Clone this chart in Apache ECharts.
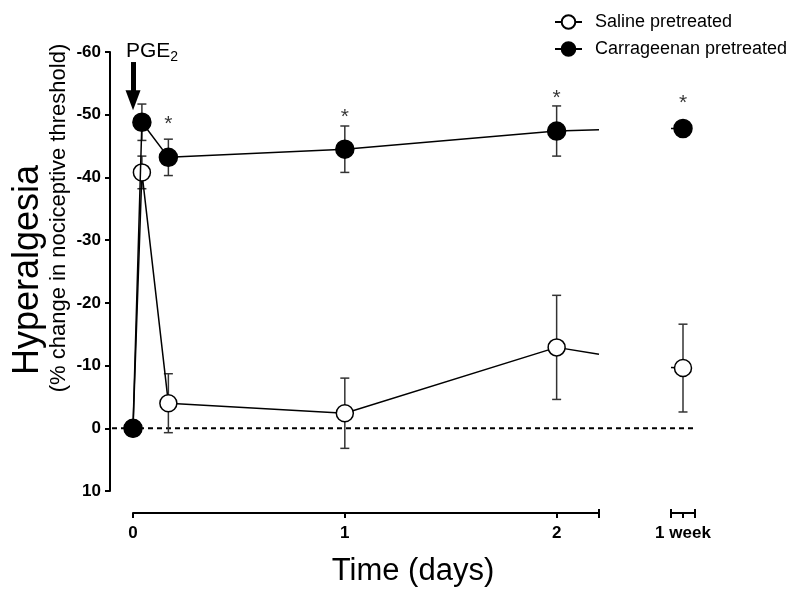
<!DOCTYPE html>
<html><head><meta charset="utf-8">
<script src="https://cdn.jsdelivr.net/npm/echarts@6/dist/echarts.min.js"></script>
<style>html,body{margin:0;padding:0;background:#fff}#c{width:800px;height:595px}</style>
</head><body><div id="c"></div>
<script>
// ---- data ----
const dayTimes = [0, 0.042, 0.167, 1, 2];
const dayTickValues = [0, 1, 2];
const dayAxisEnd = 2.2;
const salineMean = [0, -40.8, -4.0, -2.4, -12.9];
const salineSem  = [0, 2.6, 4.7, 5.6, 8.3];
const carrMean   = [0, -48.8, -43.2, -44.5, -47.4];
const carrSem    = [0, 2.9, 2.9, 3.7, 4.0];
const salineAtBreak = -11.8;
const carrAtBreak = -47.6;
const weekRange = [0, 2];
const weekPos = 1;
const weekLabel = '1 week';
const salineWeekStart = -9.7;
const carrWeekStart = -47.8;
const salineWeekMean = -9.6, salineWeekSem = 7.0;
const carrWeekMean = -47.8, carrWeekSem = 0.8;
const starDays = [0.167, 1, 2];
const starValues = [-49.4, -50.6, -53.6];
const starWeekValue = -52.8;
const yMin = -60, yMax = 10, yStep = 10;
const arrowFrom = -58.4, arrowTo = -52.3;
const seriesNames = ['Saline pretreated', 'Carrageenan pretreated'];

const FONT = 'Liberation Sans, Arial, sans-serif';
const chart = echarts.init(document.getElementById('c'));

function errorBar(params, api) {
  const x = api.value(0), m = api.value(1), s = api.value(2);
  const a = api.coord([x, m - s]);
  const b = api.coord([x, m + s]);
  const hw = 4.5;
  const st = { stroke: '#333', lineWidth: 1.5 };
  return { type: 'group', children: [
    { type: 'line', shape: { x1: a[0], y1: a[1], x2: b[0], y2: b[1] }, style: st },
    { type: 'line', shape: { x1: a[0] - hw, y1: a[1], x2: a[0] + hw, y2: a[1] }, style: st },
    { type: 'line', shape: { x1: b[0] - hw, y1: b[1], x2: b[0] + hw, y2: b[1] }, style: st }
  ]};
}

const grids = [
  { left: 133, right: 201, top: 52, bottom: 104 },
  { left: 671, right: 105, top: 52, bottom: 104 },
  { left: 112, right: 105, top: 52, bottom: 104 }
];
const yBase = { type: 'value', min: yMin, max: yMax, interval: yStep, inverse: true, splitLine: { show: false } };
const hiddenY = Object.assign({}, yBase, { show: false });

const axisLabelStyle = { color: '#000', fontFamily: FONT, fontWeight: 'bold', fontSize: 17 };

const markerOpen = { color: '#fff', borderColor: '#000', borderWidth: 1.5 };
const markerFilled = { color: '#000', borderColor: '#000', borderWidth: 1.5 };
const lineSt = { color: '#000', width: 1.5 };
const starLabel = { show: true, position: 'inside', formatter: '*', color: '#000', fontFamily: FONT, fontSize: 21, offset: [0, 6] };

function pts(times, means, endX, endV) {
  const d = times.map((t, i) => [t, means[i]]);
  d.push({ value: [endX, endV], symbol: 'none' });
  return d;
}

const option = {
  backgroundColor: '#fff',
  animation: false,
  grid: grids,
  xAxis: [
    { gridIndex: 0, type: 'value', min: 0, max: dayAxisEnd, position: 'bottom', offset: 22,
      splitLine: { show: false },
      axisLine: { show: true, onZero: false, lineStyle: { color: '#000', width: 2 } },
      axisTick: { show: true, length: 5, lineStyle: { color: '#000', width: 2 }, customValues: dayTickValues.concat([dayAxisEnd]) },
      axisLabel: Object.assign({ margin: 12, customValues: dayTickValues }, axisLabelStyle) },
    { gridIndex: 0, type: 'value', min: 0, max: dayAxisEnd, position: 'bottom', offset: 22,
      splitLine: { show: false }, axisLine: { show: false, onZero: false },
      axisTick: { show: true, inside: true, length: 4, lineStyle: { color: '#000', width: 2 }, customValues: [dayAxisEnd] },
      axisLabel: { show: false } },
    { gridIndex: 1, type: 'value', min: weekRange[0], max: weekRange[1], position: 'bottom', offset: 22,
      splitLine: { show: false },
      axisLine: { show: true, onZero: false, lineStyle: { color: '#000', width: 2 } },
      axisTick: { show: true, length: 5, lineStyle: { color: '#000', width: 2 }, customValues: [weekRange[0], weekPos, weekRange[1]] },
      axisLabel: Object.assign({ margin: 12, customValues: [weekPos], formatter: () => weekLabel }, axisLabelStyle) },
    { gridIndex: 1, type: 'value', min: weekRange[0], max: weekRange[1], position: 'bottom', offset: 22,
      splitLine: { show: false }, axisLine: { show: false, onZero: false },
      axisTick: { show: true, inside: true, length: 4, lineStyle: { color: '#000', width: 2 }, customValues: [weekRange[0], weekRange[1]] },
      axisLabel: { show: false } },
    { gridIndex: 2, type: 'value', min: 0, max: 1, show: false }
  ],
  yAxis: [
    Object.assign({}, yBase, { gridIndex: 0, offset: 23,
      axisLine: { show: true, onZero: false, lineStyle: { color: '#000', width: 2 } },
      axisTick: { show: true, length: 5, lineStyle: { color: '#000', width: 2 } },
      axisLabel: Object.assign({ margin: 9 }, axisLabelStyle) }),
    Object.assign({}, hiddenY, { gridIndex: 1 }),
    Object.assign({}, hiddenY, { gridIndex: 2 })
  ],
  legend: {
    orient: 'vertical', left: 549, top: 8, itemGap: 9, itemWidth: 27, itemHeight: 17,
    data: seriesNames,
    textStyle: { color: '#000', fontFamily: FONT, fontSize: 18, padding: [0, 0, 0, 8] }
  },
  series: [
    { type: 'line', xAxisIndex: 4, yAxisIndex: 2, data: [[0, 0], [1, 0]], symbol: 'none', silent: true, z: 1,
      lineStyle: { color: '#000', width: 2, type: [5, 4] } },
    { type: 'custom', name: 'saline-err', xAxisIndex: 0, yAxisIndex: 0, renderItem: errorBar, clip: false, z: 2,
      encode: { x: 0, y: 1 },
      data: dayTimes.map((t, i) => [t, salineMean[i], salineSem[i]]).filter(d => d[2] > 0) },
    { type: 'custom', name: 'carr-err', xAxisIndex: 0, yAxisIndex: 0, renderItem: errorBar, clip: false, z: 2,
      encode: { x: 0, y: 1 },
      data: dayTimes.map((t, i) => [t, carrMean[i], carrSem[i]]).filter(d => d[2] > 0) },
    { type: 'custom', name: 'saline-err-w', xAxisIndex: 2, yAxisIndex: 1, renderItem: errorBar, clip: false, z: 2,
      encode: { x: 0, y: 1 }, data: [[weekPos, salineWeekMean, salineWeekSem]] },
    { type: 'custom', name: 'carr-err-w', xAxisIndex: 2, yAxisIndex: 1, renderItem: errorBar, clip: false, z: 2,
      encode: { x: 0, y: 1 }, data: [[weekPos, carrWeekMean, carrWeekSem]] },
    { type: 'line', name: seriesNames[0], xAxisIndex: 0, yAxisIndex: 0, z: 3, clip: false,
      symbol: 'circle', symbolSize: 17, itemStyle: markerOpen, lineStyle: lineSt,
      data: pts(dayTimes, salineMean, dayAxisEnd, salineAtBreak) },
    { type: 'line', name: seriesNames[0], xAxisIndex: 2, yAxisIndex: 1, z: 3, clip: false,
      symbol: 'circle', symbolSize: 17, itemStyle: markerOpen, lineStyle: lineSt,
      data: [{ value: [weekRange[0], salineWeekStart], symbol: 'none' }, [weekPos, salineWeekMean]] },
    { type: 'line', name: seriesNames[1], xAxisIndex: 0, yAxisIndex: 0, z: 4, clip: false,
      symbol: 'circle', symbolSize: 18, itemStyle: markerFilled, lineStyle: lineSt,
      data: pts(dayTimes, carrMean, dayAxisEnd, carrAtBreak),
      markLine: { silent: true, symbol: ['none', 'triangle'], symbolSize: [15, 20], label: { show: false },
        lineStyle: { color: '#000', width: 5, type: 'solid' },
        data: [[{ coord: [0, arrowFrom] }, { coord: [0, arrowTo] }]] } },
    { type: 'line', name: seriesNames[1], xAxisIndex: 2, yAxisIndex: 1, z: 4, clip: false,
      symbol: 'circle', symbolSize: 18, itemStyle: markerFilled, lineStyle: lineSt,
      data: [{ value: [weekRange[0], carrWeekStart], symbol: 'none' }, [weekPos, carrWeekMean]] },
    { type: 'scatter', xAxisIndex: 0, yAxisIndex: 0, symbolSize: 2, itemStyle: { color: 'rgba(0,0,0,0)' }, silent: true, z: 5,
      label: starLabel, data: starDays.map((t, i) => [t, starValues[i]]) },
    { type: 'scatter', xAxisIndex: 2, yAxisIndex: 1, symbolSize: 2, itemStyle: { color: 'rgba(0,0,0,0)' }, silent: true, z: 5,
      label: starLabel, data: [[weekPos, starWeekValue]] }
  ],
  graphic: [
    { type: 'text', x: 28, y: 270, rotation: Math.PI / 2,
      style: { text: 'Hyperalgesia', font: '36px ' + FONT, fill: '#000', align: 'center', verticalAlign: 'middle' } },
    { type: 'text', x: 59, y: 218, rotation: Math.PI / 2,
      style: { text: '(% change in nociceptive threshold)', font: '22px ' + FONT, fill: '#000', align: 'center', verticalAlign: 'middle' } },
    { type: 'text', x: 413, y: 571,
      style: { text: 'Time (days)', font: '31px ' + FONT, fill: '#000', align: 'center', verticalAlign: 'middle' } },
    { type: 'text', x: 126, y: 38,
      style: { text: 'PGE{s|2}', font: '21px ' + FONT, fill: '#000', rich: { s: { fontSize: 14, fontFamily: FONT, padding: [12, 0, 0, 0] } } } }
  ]
};
chart.setOption(option);
</script>
</body></html>
